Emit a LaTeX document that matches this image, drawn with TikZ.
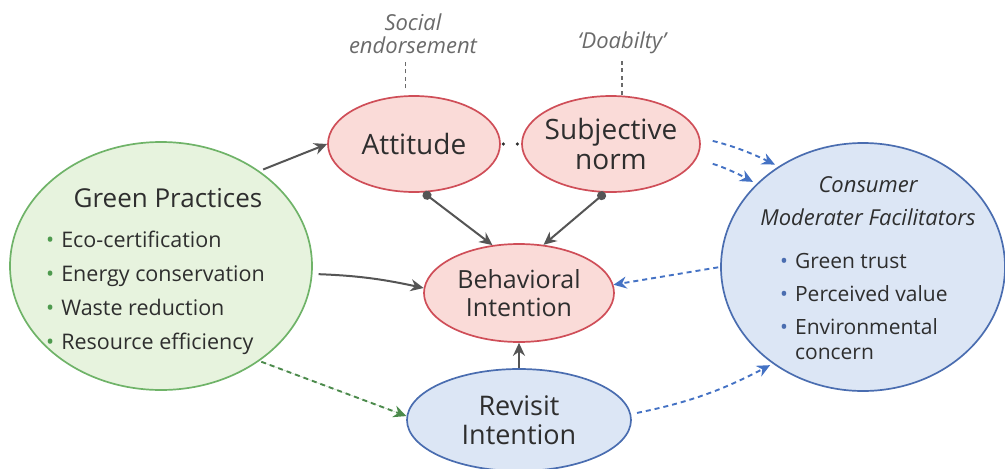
\documentclass[tikz,border=0pt]{standalone}
\usepackage{fontspec}
\setmainfont{Open Sans}
\usetikzlibrary{shapes.geometric, arrows.meta, positioning, calc, decorations.markings}

\definecolor{redfill}{HTML}{FADBD8}
\definecolor{redline}{HTML}{CF4E58}
\definecolor{greenfill}{HTML}{E7F3DE}
\definecolor{greenline}{HTML}{6FB368}
\definecolor{bluefill}{HTML}{DCE6F5}
\definecolor{blueline}{HTML}{4A6DB0}
\definecolor{arrowgray}{HTML}{555555}
\definecolor{textdark}{HTML}{2E2E2E}
\definecolor{notegray}{HTML}{6A6A6A}
\definecolor{dashblue}{HTML}{4472C4}
\definecolor{dashgreen}{HTML}{4B8A4B}
\definecolor{bulletgreen}{HTML}{4E9A4E}
\definecolor{bulletblue}{HTML}{4A6DB0}

\tikzset{
	oval/.style = {ellipse, draw, line width=1.7pt, inner sep=0pt, text=textdark, align=center},
	redoval/.style = {oval, draw=redline, fill=redfill},
	greenoval/.style = {oval, draw=greenline, fill=greenfill},
	blueoval/.style = {oval, draw=blueline, fill=bluefill},
	link/.style = {-{Stealth[length=13pt,width=12pt]}, draw=arrowgray, line width=2pt},
	duallink/.style = {{Circle[length=9pt]}-{Stealth[length=13pt,width=12pt]}, draw=arrowgray, line width=2pt},
	dashlink/.style = {-{Stealth[length=13pt,width=12pt]}, dash pattern=on 5pt off 4pt, line width=1.9pt},
	twodots/.style = {decoration={markings,
		mark=at position 2.5pt with {\fill[textdark] (0,0) circle (1.8pt);},
		mark=at position 16.5pt with {\fill[textdark] (0,0) circle (1.8pt);}}, decorate},
	note/.style = {text=notegray, font=\fontsize{22}{23}\selectfont\itshape, align=center},
	tick/.style = {draw=notegray, dash pattern=on 4pt off 3.5pt, line width=1.5pt}
}

\newcommand{\gpbul}{{\color{bulletgreen}\textbullet}\hspace{7pt}}
\newcommand{\cmbul}{{\color{bulletblue}\textbullet}}

\begin{document}
\begin{tikzpicture}[x=1pt, y=-1pt]
	\useasboundingbox (0,0) rectangle (1005,469);

	% constructs
	\node[greenoval, minimum width=302pt, minimum height=248pt] (gp) at (161,266) {};
	\node[redoval, minimum width=172pt, minimum height=96pt, font=\fontsize{28}{30}\selectfont] (att) at (414,144) {Attitude};
	\node[redoval, minimum width=178pt, minimum height=96pt, inner xsep=-8pt, font=\fontsize{28}{30}\selectfont] (sn) at (611,144) {Subjective\\norm};
	\node[redoval, minimum width=190pt, minimum height=98pt, font=\fontsize{25}{28}\selectfont] (bi) at (519,293) {Behavioral\\Intention};
	\node[blueoval, minimum width=224pt, minimum height=102pt, font=\fontsize{27}{29}\selectfont] (ri) at (519,420) {Revisit\\Intention};
	\node[blueoval, minimum width=284pt, minimum height=248pt] (cmf) at (863,267) {};

	% green practices text
	\node[text=textdark, font=\fontsize{26}{28}\selectfont] (gptitle) at (168,198) {Green Practices};
	\foreach \txt [count=\i] in {Eco-certification, Energy conservation, Waste reduction, Resource efficiency}
	{
		\node[anchor=west, text=textdark, font=\fontsize{21.5}{26}\selectfont, text height=15pt, text depth=4pt, inner sep=0pt] (gpi\i) at (46, 208 + 34*\i) {\gpbul\txt};
	}

	% moderators text
	\node[text=textdark, font=\fontsize{22}{33}\selectfont\itshape, align=center] (cmftitle) at (868,201) {Consumer\\Moderater Facilitators};
	\node[anchor=north west, text=textdark, font=\fontsize{21}{25}\selectfont, inner sep=0pt] (cmfitems) at (780,251)
	{\begin{tabular}{@{}l@{\hspace{7pt}}l@{}}
		\cmbul & Green trust\\[8pt]
		\cmbul & Perceived value\\[8pt]
		\cmbul & Environmental\\
		 & concern
	\end{tabular}};

	% notes
	\node[note] (soc) at (413,34) {Social\\endorsement};
	\node[note] (doab) at (622,43) {‘Doabilty’};
	\draw[tick, shorten <=7pt, shorten >=3pt] (att.100) -- (att.100 |- soc.south);
	\draw[tick, shorten <=1pt, shorten >=2pt] (sn.77) -- (sn.77 |- doab.south);

	% paths
	\draw[link, shorten <=4pt] (gp.44) -- (att.west);
	\draw[link, shorten <=6pt] (gp.-3) to[bend left=5] (bi.177);
	\draw[duallink] (att.-79) -- (bi.119);
	\draw[duallink] (sn.-97) -- (bi.63);
	\draw[link] (ri.north) -- (bi.south);
	\path[twodots] (att.east) -- (sn.west);

	\begin{scope}[dashlink, draw=dashblue, fill=dashblue]
		\draw[shorten <=2pt] (cmf.west) -- (bi.5);
		\draw[shorten <=13pt, shorten >=4pt] (sn.4) to[bend left=6] (cmf.130);
		\draw[shorten <=17pt, shorten >=4pt] (sn.-10) to[bend left=6] (cmf.142);
		\draw[shorten <=6pt, shorten >=3pt] (ri.3) to[bend right=8] (cmf.-133);
	\end{scope}
	\draw[dashlink, draw=dashgreen, fill=dashgreen, shorten <=2pt] (gp.-44) -- (ri.178);
\end{tikzpicture}
\end{document}
